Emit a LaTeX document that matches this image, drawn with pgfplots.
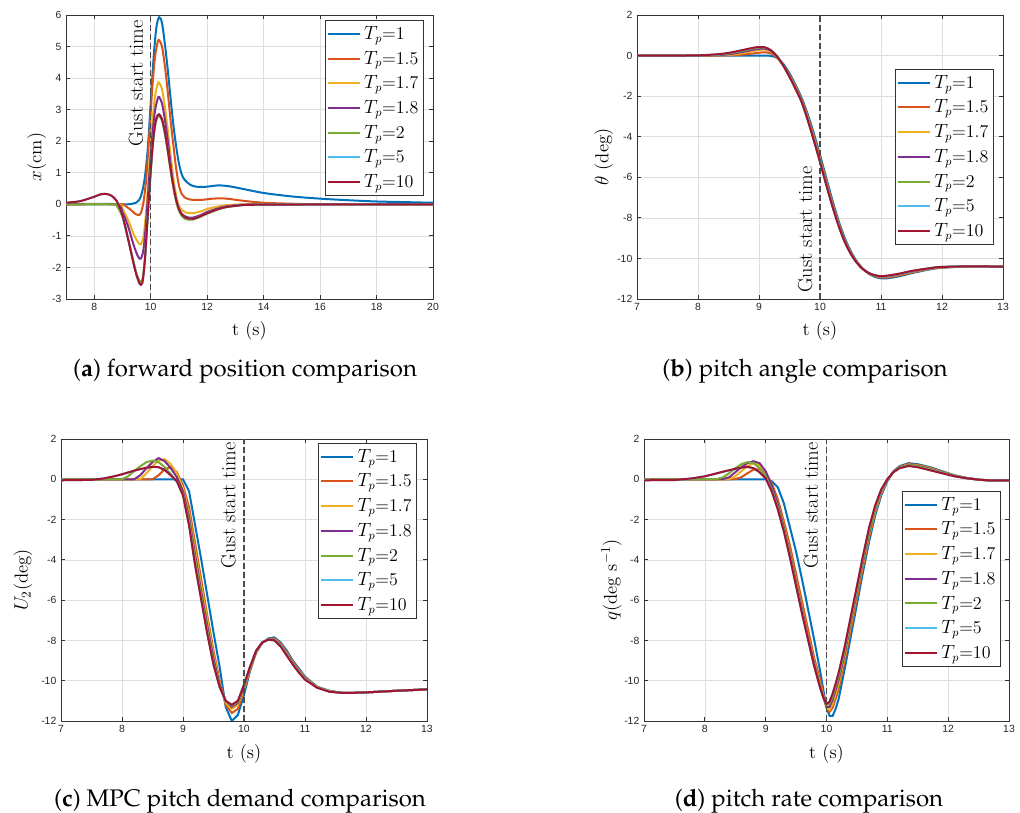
\documentclass[border=0pt]{standalone}
\usepackage{fontspec}
\usepackage[T1,TU]{fontenc}
\usepackage{pgfplots}
\pgfplotsset{compat=1.18}
\usepackage{pgfplotstable}
\newfontfamily\ticksans{Liberation Sans}
\definecolor{tpA}{rgb}{0,0.447,0.741}
\definecolor{tpB}{rgb}{0.850,0.325,0.098}
\definecolor{tpC}{rgb}{0.929,0.694,0.125}
\definecolor{tpD}{rgb}{0.494,0.184,0.556}
\definecolor{tpE}{rgb}{0.466,0.674,0.188}
\definecolor{tpF}{rgb}{0.301,0.745,0.933}
\definecolor{tpG}{rgb}{0.635,0.078,0.184}
\newcommand{\capfont}{\fontencoding{T1}\fontfamily{ppl}\fontsize{18}{20}\selectfont}
\newcommand{\labfont}{\fontsize{14}{16}\selectfont}
\newcommand{\gustfont}{\fontsize{15.2}{17}\selectfont}

\pgfplotstableread{
t c1 c2 c3 c4 c5 c6 c7
7.0 0 0 0 0 0 0 0
7.5 0 0 0 0 0 0 0
8.0 0 0 0 0 0.01 0.01 0.01
8.3 0 0 0.01 0.02 0.04 0.05 0.06
8.5 0 0.01 0.03 0.06 0.1 0.12 0.13
8.7 0 0.04 0.1 0.16 0.21 0.24 0.25
8.9 0 0.1 0.22 0.28 0.34 0.37 0.38
9.0 0 0.14 0.27 0.33 0.39 0.41 0.42
9.1 0 0.16 0.29 0.34 0.39 0.4 0.4
9.2 -0.02 0.1 0.19 0.22 0.25 0.25 0.25
9.3 -0.12 -0.12 -0.1 -0.08 -0.06 -0.05 -0.05
9.4 -0.42 -0.48 -0.5 -0.5 -0.5 -0.5 -0.5
9.5 -0.88 -0.95 -1.0 -1.02 -1.04 -1.05 -1.05
9.6 -1.45 -1.52 -1.58 -1.61 -1.63 -1.65 -1.65
9.7 -2.1 -2.18 -2.23 -2.26 -2.28 -2.3 -2.3
9.8 -2.9 -3.0 -3.07 -3.12 -3.16 -3.19 -3.2
9.9 -3.85 -3.98 -4.07 -4.12 -4.16 -4.19 -4.2
10.0 -4.9 -5.03 -5.12 -5.17 -5.21 -5.24 -5.25
10.1 -6.0 -6.13 -6.22 -6.27 -6.31 -6.34 -6.35
10.2 -7.1 -7.22 -7.29 -7.33 -7.36 -7.39 -7.4
10.3 -8.1 -8.2 -8.26 -8.3 -8.32 -8.34 -8.35
10.4 -8.95 -9.04 -9.08 -9.11 -9.13 -9.14 -9.15
10.5 -9.62 -9.68 -9.71 -9.73 -9.74 -9.75 -9.75
10.6 -10.13 -10.17 -10.18 -10.19 -10.2 -10.2 -10.2
10.7 -10.5 -10.51 -10.51 -10.52 -10.52 -10.52 -10.52
10.8 -10.76 -10.74 -10.73 -10.73 -10.72 -10.72 -10.72
10.9 -10.91 -10.88 -10.86 -10.85 -10.84 -10.83 -10.83
11.0 -10.98 -10.94 -10.91 -10.9 -10.89 -10.88 -10.87
11.1 -10.98 -10.94 -10.91 -10.89 -10.87 -10.86 -10.85
11.3 -10.88 -10.84 -10.81 -10.79 -10.77 -10.76 -10.75
11.5 -10.73 -10.7 -10.67 -10.65 -10.64 -10.63 -10.62
11.8 -10.54 -10.52 -10.51 -10.5 -10.49 -10.48 -10.48
12.0 -10.46 -10.45 -10.44 -10.43 -10.43 -10.42 -10.42
12.5 -10.39 -10.39 -10.39 -10.39 -10.39 -10.39 -10.39
13.0 -10.41 -10.41 -10.41 -10.41 -10.41 -10.41 -10.41
}\tabB

\pgfplotstableread{
t c1 c2 c3 c4 c5 c6 c7
7.0 0 0 0 0 0 -0.05 -0.05
7.5 0 0 0 0 0 -0.03 -0.03
7.7 0 0 0 0 0 0.04 0.04
7.9 0 0 0 0 0 0.16 0.17
8.0 0 0 0 0 0 0.24 0.25
8.1 0 0 0 0 0.15 0.33 0.34
8.2 0 0 0 0 0.4 0.42 0.43
8.3 0 0 0 0.2 0.65 0.5 0.51
8.4 0 0 0.3 0.55 0.85 0.57 0.57
8.5 0 0 0.65 0.85 0.93 0.61 0.62
8.6 0 0.2 0.92 1.05 0.85 0.6 0.6
8.7 0 0.5 1.0 0.9 0.6 0.47 0.46
8.8 0 0.6 0.75 0.55 0.25 0.2 0.2
8.9 0 0.35 0.3 0.1 -0.1 -0.1 -0.1
9.0 0 -0.3 -0.45 -0.6 -0.75 -0.8 -0.8
9.1 -0.6 -1.4 -1.7 -1.9 -2.1 -2.3 -2.3
9.2 -2.3 -3.2 -3.5 -3.8 -4.0 -4.3 -4.3
9.3 -4.0 -5.0 -5.3 -5.6 -5.8 -6.0 -6.0
9.4 -5.8 -6.8 -7.0 -7.3 -7.5 -7.7 -7.7
9.5 -7.6 -8.5 -8.7 -8.9 -9.1 -9.2 -9.2
9.6 -9.3 -10.0 -10.1 -10.2 -10.3 -10.3 -10.3
9.7 -11.3 -11.2 -11.1 -11.0 -11.0 -11.0 -11.0
9.8 -12.0 -11.6 -11.4 -11.3 -11.25 -11.2 -11.2
9.9 -11.7 -11.4 -11.2 -11.1 -11.05 -11.0 -11.0
10.0 -10.7 -10.5 -10.4 -10.3 -10.25 -10.2 -10.2
10.1 -9.5 -9.45 -9.4 -9.35 -9.32 -9.3 -9.3
10.2 -8.6 -8.58 -8.56 -8.54 -8.52 -8.5 -8.5
10.3 -8.12 -8.11 -8.1 -8.1 -8.1 -8.1 -8.1
10.4 -7.9 -7.92 -7.93 -7.94 -7.95 -7.96 -7.96
10.5 -7.85 -7.9 -7.93 -7.95 -7.97 -8.0 -8.0
10.6 -8.1 -8.15 -8.2 -8.22 -8.25 -8.28 -8.3
10.7 -8.5 -8.58 -8.63 -8.67 -8.7 -8.73 -8.75
10.8 -9.0 -9.05 -9.1 -9.12 -9.15 -9.18 -9.2
10.9 -9.4 -9.45 -9.5 -9.52 -9.55 -9.58 -9.6
11.0 -9.8 -9.84 -9.87 -9.89 -9.91 -9.93 -9.95
11.2 -10.3 -10.31 -10.32 -10.33 -10.33 -10.34 -10.35
11.4 -10.5 -10.51 -10.52 -10.53 -10.53 -10.54 -10.55
11.6 -10.6 -10.6 -10.6 -10.6 -10.6 -10.6 -10.6
11.8 -10.6 -10.6 -10.6 -10.6 -10.6 -10.6 -10.6
12.0 -10.58 -10.58 -10.58 -10.58 -10.58 -10.58 -10.58
12.5 -10.5 -10.5 -10.5 -10.5 -10.5 -10.5 -10.5
13.0 -10.43 -10.43 -10.43 -10.43 -10.43 -10.43 -10.43
}\tabC

\pgfplotstableread{
t c1 c2 c3 c4 c5 c6 c7
7.0 0 0 0 0 0 -0.05 -0.05
7.5 0 0 0 0 0 -0.04 -0.04
7.8 0 0 0 0 0 0.04 0.05
8.0 0 0 0 0 0 0.14 0.15
8.2 0 0 0 0 0.01 0.29 0.3
8.3 0 0 0 0.01 0.1 0.37 0.38
8.4 0 0 0.01 0.1 0.3 0.44 0.45
8.5 0 0.01 0.15 0.35 0.55 0.51 0.52
8.6 0 0.1 0.4 0.6 0.75 0.57 0.58
8.7 0 0.3 0.65 0.8 0.85 0.61 0.62
8.8 0 0.48 0.8 0.9 0.8 0.55 0.55
8.9 0 0.5 0.7 0.8 0.55 0.35 0.35
9.0 0 0.3 0.35 0.4 0.15 0.05 0.05
9.1 -0.1 -0.2 -0.3 -0.3 -0.5 -0.6 -0.6
9.2 -0.4 -1.0 -1.2 -1.25 -1.4 -1.5 -1.5
9.3 -1.2 -2.1 -2.3 -2.4 -2.5 -2.6 -2.6
9.4 -2.4 -3.3 -3.6 -3.7 -3.8 -3.9 -3.9
9.5 -3.6 -4.7 -5.0 -5.1 -5.2 -5.3 -5.3
9.6 -5.0 -6.1 -6.4 -6.5 -6.6 -6.7 -6.7
9.7 -6.5 -7.5 -7.8 -7.9 -8.0 -8.0 -8.0
9.8 -8.0 -8.9 -9.1 -9.2 -9.3 -9.3 -9.3
9.9 -9.6 -10.0 -10.2 -10.3 -10.35 -10.4 -10.4
9.95 -10.5 -10.7 -10.8 -10.85 -10.85 -10.85 -10.85
10.0 -11.3 -11.3 -11.35 -11.3 -11.2 -11.15 -11.15
10.05 -11.75 -11.55 -11.45 -11.3 -11.15 -11.05 -11.05
10.1 -11.75 -11.35 -11.15 -10.95 -10.8 -10.65 -10.65
10.15 -11.4 -10.9 -10.65 -10.45 -10.3 -10.15 -10.15
10.2 -10.9 -10.4 -10.15 -9.95 -9.8 -9.62 -9.6
10.3 -9.4 -9.0 -8.8 -8.65 -8.5 -8.32 -8.3
10.4 -7.8 -7.45 -7.25 -7.1 -7.0 -6.82 -6.8
10.5 -6.2 -5.9 -5.7 -5.6 -5.5 -5.32 -5.3
10.6 -4.6 -4.35 -4.2 -4.1 -4.0 -3.82 -3.8
10.7 -3.1 -2.9 -2.8 -2.7 -2.6 -2.42 -2.4
10.8 -1.8 -1.65 -1.6 -1.5 -1.45 -1.32 -1.3
10.9 -0.8 -0.7 -0.68 -0.62 -0.6 -0.52 -0.5
11.0 -0.1 -0.05 -0.04 -0.02 0 0 0
11.1 0.4 0.38 0.37 0.36 0.36 0.35 0.35
11.2 0.65 0.62 0.6 0.59 0.58 0.56 0.55
11.35 0.8 0.76 0.73 0.71 0.7 0.67 0.66
11.5 0.75 0.71 0.68 0.66 0.65 0.61 0.6
11.7 0.6 0.57 0.54 0.52 0.5 0.46 0.45
11.9 0.4 0.38 0.36 0.35 0.34 0.31 0.3
12.1 0.2 0.19 0.18 0.17 0.17 0.15 0.15
12.3 0.07 0.07 0.06 0.06 0.06 0.05 0.05
12.5 -0.02 -0.02 -0.02 -0.02 -0.02 -0.02 -0.02
12.7 -0.06 -0.06 -0.06 -0.06 -0.06 -0.06 -0.06
13.0 -0.05 -0.05 -0.05 -0.05 -0.05 -0.05 -0.05
}\tabD

\pgfplotsset{
  mpl/.style={
    scale only axis,
    axis line style={black!80, line width=0.6pt},
    tick style={black!80, line width=0.6pt},
    tick align=inside,
    major tick length=3pt,
    grid=major,
    major grid style={black!13, line width=0.5pt},
    tick label style={font=\ticksans\fontsize{7.8}{9}\selectfont, text=black!85},
    /pgf/number format/assume math mode=true,
    every axis plot/.append style={line width=1.5pt},
    legend style={font=\fontsize{13.5}{15}\selectfont, draw=black!80, line width=0.6pt,
      anchor=north east, inner xsep=1pt, inner ysep=1.5pt, cells={anchor=west},
      nodes={inner sep=2.8pt}, row sep=1.6pt},
    legend image code/.code={\draw[##1] (0pt,0pt) -- (24pt,0pt);},
    every axis x label/.style={anchor=center, font=\labfont},
    every axis y label/.style={rotate=90, anchor=center, font=\labfont},
  },
  gust/.style={forget plot, black!70, line width=1.2pt, dash pattern=on 4.5pt off 2.2pt},
}

\begin{document}
\begin{tikzpicture}
% ---------- (a) ----------
\begin{axis}[mpl, at={(49.5pt,385.5pt)}, anchor=south west,
  width=275.25pt, height=213pt,
  xmin=7, xmax=20, ymin=-3, ymax=6,
  xtick={8,10,...,20}, ytick={-3,-2,...,6},
  xlabel={t (s)}, ylabel={$x$(cm)},
  xlabel style={at={([yshift=-23.6pt]axis description cs:0.5,0)}},
  ylabel style={at={([xshift=-22pt]axis description cs:0,0.5)}},
  legend style={at={(0.975,0.982)}}]
\addplot[tpA, smooth] coordinates {(7,0) (8,0) (9,0) (9.3,0.01) (9.5,0.06) (9.6,0.15) (9.7,0.4) (9.8,0.9) (9.9,1.8) (10,3.2) (10.1,4.6) (10.2,5.6) (10.3,5.93) (10.4,5.75) (10.5,5.1) (10.6,4.3) (10.7,3.4) (10.8,2.55) (10.9,1.85) (11,1.3) (11.1,0.95) (11.2,0.78) (11.4,0.62) (11.6,0.56) (11.8,0.55) (12,0.56) (12.4,0.6) (12.8,0.57) (13.2,0.5) (14,0.36) (15,0.25) (16,0.18) (17,0.13) (18,0.09) (19,0.07) (20,0.05)};
\addlegendentry{$T_p$=1}
\addplot[tpB, smooth] coordinates {(7,0) (8.9,0) (9.1,-0.05) (9.3,-0.18) (9.45,-0.3) (9.55,-0.34) (9.65,-0.28) (9.75,0.1) (9.85,0.9) (9.95,2.2) (10.05,3.6) (10.15,4.65) (10.25,5.15) (10.3,5.2) (10.4,5.0) (10.5,4.4) (10.6,3.6) (10.7,2.7) (10.8,1.9) (10.9,1.15) (11,0.6) (11.1,0.33) (11.2,0.22) (11.4,0.15) (11.6,0.14) (11.8,0.14) (12.2,0.18) (12.5,0.19) (12.8,0.17) (13.2,0.12) (14,0.05) (15,0.02) (16,0) (20,0)};
\addlegendentry{$T_p$=1.5}
\addplot[tpC, smooth] coordinates {(7,0) (8.8,0) (9,-0.15) (9.2,-0.5) (9.4,-0.95) (9.55,-1.2) (9.65,-1.27) (9.75,-1.0) (9.85,-0.1) (9.95,1.2) (10.05,2.5) (10.15,3.4) (10.25,3.82) (10.3,3.85) (10.4,3.65) (10.5,3.1) (10.6,2.4) (10.7,1.6) (10.8,0.85) (10.9,0.3) (11,-0.05) (11.1,-0.18) (11.2,-0.24) (11.35,-0.28) (11.5,-0.28) (11.8,-0.22) (12,-0.15) (12.5,-0.05) (13,-0.01) (14,0) (20,0)};
\addlegendentry{$T_p$=1.7}
\addplot[tpD, smooth] coordinates {(7,0) (8.75,0) (9,-0.25) (9.2,-0.7) (9.4,-1.3) (9.55,-1.65) (9.65,-1.72) (9.75,-1.4) (9.85,-0.4) (9.95,0.9) (10.05,2.1) (10.15,2.95) (10.25,3.35) (10.3,3.4) (10.4,3.2) (10.5,2.7) (10.6,2.05) (10.7,1.3) (10.8,0.6) (10.9,0.15) (11,-0.15) (11.1,-0.3) (11.2,-0.37) (11.35,-0.42) (11.5,-0.42) (11.8,-0.33) (12,-0.24) (12.5,-0.1) (13,-0.03) (14,0) (20,0)};
\addlegendentry{$T_p$=1.8}
\addplot[tpE, smooth] coordinates {(7,0) (8.7,0) (8.8,-0.05) (9,-0.4) (9.2,-1.1) (9.4,-1.85) (9.5,-2.2) (9.6,-2.42) (9.65,-2.45) (9.7,-2.4) (9.75,-2.1) (9.8,-1.65) (9.85,-1.0) (9.9,-0.3) (9.95,0.4) (10,1.0) (10.05,1.6) (10.1,2.1) (10.15,2.45) (10.2,2.66) (10.25,2.77) (10.3,2.8) (10.4,2.65) (10.5,2.25) (10.6,1.7) (10.7,1.1) (10.8,0.55) (10.9,0.1) (11,-0.2) (11.1,-0.37) (11.2,-0.45) (11.35,-0.49) (11.5,-0.48) (11.7,-0.42) (12,-0.3) (12.5,-0.13) (13,-0.05) (14,-0.01) (20,0)};
\addlegendentry{$T_p$=2}
\addplot[tpF, smooth] coordinates {(7,0.05) (7.5,0.1) (8,0.24) (8.2,0.31) (8.4,0.33) (8.6,0.28) (8.8,0.1) (9,-0.35) (9.2,-1.1) (9.4,-1.9) (9.5,-2.25) (9.6,-2.5) (9.65,-2.54) (9.7,-2.5) (9.75,-2.2) (9.8,-1.7) (9.85,-1.0) (9.9,-0.3) (9.95,0.4) (10,1.05) (10.05,1.65) (10.1,2.15) (10.15,2.5) (10.2,2.72) (10.25,2.83) (10.3,2.85) (10.4,2.7) (10.5,2.3) (10.6,1.75) (10.7,1.15) (10.8,0.6) (10.9,0.15) (11,-0.15) (11.1,-0.32) (11.2,-0.4) (11.35,-0.45) (11.5,-0.46) (11.7,-0.4) (12,-0.28) (12.5,-0.12) (13,-0.05) (14,-0.01) (20,0)};
\addlegendentry{$T_p$=5}
\addplot[tpG, smooth] coordinates {(7,0.05) (7.5,0.1) (8,0.24) (8.2,0.31) (8.4,0.33) (8.6,0.28) (8.8,0.1) (9,-0.35) (9.2,-1.1) (9.4,-1.9) (9.5,-2.25) (9.6,-2.5) (9.65,-2.55) (9.7,-2.5) (9.75,-2.2) (9.8,-1.7) (9.85,-1.0) (9.9,-0.3) (9.95,0.4) (10,1.05) (10.05,1.65) (10.1,2.15) (10.15,2.5) (10.2,2.72) (10.25,2.83) (10.3,2.85) (10.4,2.7) (10.5,2.3) (10.6,1.75) (10.7,1.15) (10.8,0.6) (10.9,0.15) (11,-0.15) (11.1,-0.32) (11.2,-0.4) (11.35,-0.45) (11.5,-0.46) (11.7,-0.4) (12,-0.28) (12.5,-0.12) (13,-0.05) (14,-0.01) (20,0)};
\addlegendentry{$T_p$=10}
\addplot[gust] coordinates {(10,-3) (10,6)};
\node[rotate=90, anchor=base east, inner sep=0pt, font=\gustfont] at ([xshift=-5.8pt,yshift=-3.75pt]axis cs:10,6) {Gust start time};
\end{axis}

% ---------- (b) ----------
\begin{axis}[mpl, at={(477.75pt,385.5pt)}, anchor=south west,
  width=274.5pt, height=213pt,
  xmin=7, xmax=13, ymin=-12, ymax=2,
  xtick={7,...,13}, ytick={-12,-10,...,2},
  xlabel={t (s)}, ylabel={$\theta$ (deg)},
  xlabel style={at={([yshift=-23.6pt]axis description cs:0.5,0)}},
  ylabel style={at={([xshift=-25pt]axis description cs:0,0.5)}},
  legend style={at={(0.975,0.81)}}]
\addplot[tpA, smooth] table[x=t,y=c1]{\tabB}; \addlegendentry{$T_p$=1}
\addplot[tpB, smooth] table[x=t,y=c2]{\tabB}; \addlegendentry{$T_p$=1.5}
\addplot[tpC, smooth] table[x=t,y=c3]{\tabB}; \addlegendentry{$T_p$=1.7}
\addplot[tpD, smooth] table[x=t,y=c4]{\tabB}; \addlegendentry{$T_p$=1.8}
\addplot[tpE, smooth] table[x=t,y=c5]{\tabB}; \addlegendentry{$T_p$=2}
\addplot[tpF, smooth] table[x=t,y=c6]{\tabB}; \addlegendentry{$T_p$=5}
\addplot[tpG, smooth] table[x=t,y=c7]{\tabB}; \addlegendentry{$T_p$=10}
\addplot[gust] coordinates {(10,-12) (10,2)};
\node[rotate=90, anchor=base west, inner sep=0pt, font=\gustfont] at ([xshift=-6pt,yshift=4.5pt]axis cs:10,-12) {Gust start time};
\end{axis}

% ---------- (c) ----------
\begin{axis}[mpl, at={(45.75pt,69pt)}, anchor=south west,
  width=274.5pt, height=211.5pt,
  xmin=7, xmax=13, ymin=-12, ymax=2,
  xtick={7,...,13}, ytick={-12,-10,...,2},
  xlabel={t (s)}, ylabel={$U_2$(deg)},
  xlabel style={at={([yshift=-24.4pt]axis description cs:0.5,0)}},
  ylabel style={at={([xshift=-28.5pt]axis description cs:0,0.5)}},
  legend style={at={(0.973,0.986)}}]
\addplot[tpA] table[x=t,y=c1]{\tabC}; \addlegendentry{$T_p$=1}
\addplot[tpB] table[x=t,y=c2]{\tabC}; \addlegendentry{$T_p$=1.5}
\addplot[tpC] table[x=t,y=c3]{\tabC}; \addlegendentry{$T_p$=1.7}
\addplot[tpD] table[x=t,y=c4]{\tabC}; \addlegendentry{$T_p$=1.8}
\addplot[tpE] table[x=t,y=c5]{\tabC}; \addlegendentry{$T_p$=2}
\addplot[tpF] table[x=t,y=c6]{\tabC}; \addlegendentry{$T_p$=5}
\addplot[tpG] table[x=t,y=c7]{\tabC}; \addlegendentry{$T_p$=10}
\addplot[gust] coordinates {(10,-12) (10,2)};
\node[rotate=90, anchor=base east, inner sep=0pt, font=\gustfont] at ([xshift=-6.5pt,yshift=-2.25pt]axis cs:10,2) {Gust start time};
\end{axis}

% ---------- (d) ----------
\begin{axis}[mpl, at={(483pt,69pt)}, anchor=south west,
  width=273.75pt, height=211.5pt,
  xmin=7, xmax=13, ymin=-12, ymax=2,
  xtick={7,...,13}, ytick={-12,-10,...,2},
  xlabel={t (s)}, ylabel={$q$(deg s$^{-1}$)},
  xlabel style={at={([yshift=-24.4pt]axis description cs:0.5,0)}},
  ylabel style={at={([xshift=-24.4pt]axis description cs:0,0.5)}},
  legend style={at={(0.978,0.816)}}]
\addplot[tpA] table[x=t,y=c1]{\tabD}; \addlegendentry{$T_p$=1}
\addplot[tpB] table[x=t,y=c2]{\tabD}; \addlegendentry{$T_p$=1.5}
\addplot[tpC] table[x=t,y=c3]{\tabD}; \addlegendentry{$T_p$=1.7}
\addplot[tpD] table[x=t,y=c4]{\tabD}; \addlegendentry{$T_p$=1.8}
\addplot[tpE] table[x=t,y=c5]{\tabD}; \addlegendentry{$T_p$=2}
\addplot[tpF] table[x=t,y=c6]{\tabD}; \addlegendentry{$T_p$=5}
\addplot[tpG] table[x=t,y=c7]{\tabD}; \addlegendentry{$T_p$=10}
\addplot[gust] coordinates {(10,-12) (10,2)};
\node[rotate=90, anchor=base east, inner sep=0pt, font=\gustfont] at ([xshift=-6.5pt,yshift=-2.25pt]axis cs:10,2) {Gust start time};
\end{axis}

% captions
\node[anchor=base, font=\capfont] at (183.75pt,327pt) {(\textbf{a}) forward position comparison};
\node[anchor=base, font=\capfont] at (603.75pt,327pt) {(\textbf{b}) pitch angle comparison};
\node[anchor=base, font=\capfont] at (180pt,5pt) {(\textbf{c}) MPC pitch demand comparison};
\node[anchor=base, font=\capfont] at (606.75pt,5pt) {(\textbf{d}) pitch rate comparison};

\pgfresetboundingbox
\useasboundingbox (0,0) rectangle (765pt,609.75pt);
\end{tikzpicture}
\end{document}
